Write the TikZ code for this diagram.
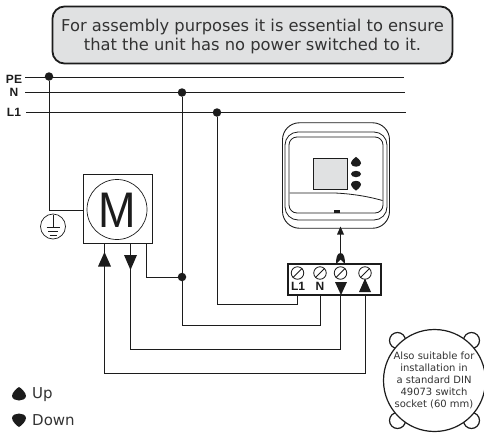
\documentclass[tikz,border=0pt]{standalone}
\usepackage{fontspec}
\setmainfont{DejaVu Sans}
\newfontfamily\armo{Liberation Sans}
\newcommand{\fsz}[1]{\fontsize{#1}{#1}\selectfont}
\definecolor{wire}{HTML}{1C1C1C}
\definecolor{panel}{HTML}{E0E1E2}
\definecolor{txt}{HTML}{333333}
\tikzset{
  wireline/.style={draw=wire,line width=1pt},
  junction/.style={circle,fill=wire,inner sep=0pt,minimum size=8.5pt},
  busname/.style={font=\armo\bfseries\fsz{12},text=wire,inner sep=0pt},
  termname/.style={font=\armo\bfseries\fsz{12},text=wire,inner sep=0pt},
  screwhead/.style={circle,draw=wire,line width=.8pt,inner sep=0pt,minimum size=12.5pt},
  tri/.style={fill=wire,draw=none},
  ear/.style={circle,draw=wire,line width=1.2pt,fill=white,inner sep=0pt,minimum size=16pt},
  devline/.style={draw=wire,line width=.8pt},
  tearup/.pic={\fill[wire] (0,-7) .. controls (2,-6) and (7,-1.5) .. (7,2) .. controls (7,5) and (3,6.5) .. (0,6.5) .. controls (-3,6.5) and (-7,5) .. (-7,2) .. controls (-7,-1.5) and (-2,-6) .. (0,-7) -- cycle;},
  teardown/.pic={\fill[wire] (0,7) .. controls (2,6) and (7,1.5) .. (7,-2) .. controls (7,-5) and (3,-6.5) .. (0,-6.5) .. controls (-3,-6.5) and (-7,-5) .. (-7,-2) .. controls (-7,1.5) and (-2,6) .. (0,7) -- cycle;},
}
\begin{document}
\begin{tikzpicture}[x=1pt,y=-1pt]
\useasboundingbox (0,0) rectangle (484,434);
% notice
\node[draw=wire,line width=1.8pt,fill=panel,rounded corners=12pt,minimum width=400pt,minimum height=57pt,inner sep=0pt] (note) at (252.5,35) {};
\node[inner sep=0pt,align=center,font=\fsz{16.3},text=txt] (noteT) at (252.5,36.5) {For assembly purposes it is essential to ensure\\[2pt]that the unit has no power switched to it.};
% bus
\coordinate (peL) at (25,77); \coordinate (peR) at (404,77);
\coordinate (nL) at (25,92); \coordinate (nR) at (405,92);
\coordinate (lL) at (26,112); \coordinate (lR) at (406,112);
\node[busname] (peT) at (14,79) {PE};
\node[busname] (nT) at (14,92) {N};
\node[busname] (lT) at (14,112.5) {L1};
\draw[wireline] (peL) -- (peR);
\draw[wireline] (nL) -- (nR);
\draw[wireline] (lL) -- (lR);
\node[junction] (jpe) at (49,76.5) {};
\node[junction] (jn) at (182,92.5) {};
\node[junction] (jl) at (217,112.5) {};
% motor
\node[draw=wire,line width=1pt,fill=white,minimum width=69pt,minimum height=69pt,inner sep=0pt] (motor) at (117.5,208.5) {};
\node[circle,draw=wire,line width=.7pt,minimum size=60pt,inner sep=0pt] (mcirc) at (117,209.5) {};
\node[font=\armo\fsz{50},xscale=.9,text=wire,inner sep=0pt] (mM) at (117,210) {M};
\coordinate (mp) at (83,210);
\coordinate (mu) at (104,243);
\coordinate (md) at (130.5,243);
\coordinate (mn) at (146,243);
% ground
\node[circle,draw=wire,line width=.7pt,minimum size=25pt,inner sep=0pt] (gnd) at (53,226.5) {};
\draw[wire,line width=.8pt] (53,215) -- (53,227) (46.5,227) -- (59.5,227) (48,231) -- (58,231);
\draw[wire,line width=1pt] (49.5,235) -- (56.5,235);
\draw[wireline] (jpe) |- (mp);
% terminal
\node[draw=wire,line width=1.7pt,fill=white,minimum width=93pt,minimum height=31pt,inner sep=0pt] (term) at (334.5,279.5) {};
\foreach \n/\x in {a/297.5,b/320,c/340.5,d/365}{
  \node[screwhead] (s\n) at (\x,273) {};
  \draw[wire,line width=.8pt] (s\n.south west) -- (s\n.north east);
  \coordinate (t\n) at (\x,295);
}
\node[termname] (tL) at (298,286.5) {L1};
\node[termname] (tN) at (320,286.5) {N};
% wires
\coordinate (jm) at (182,277);
\draw[wireline] (jn) -- (182,325) -| (tb);
\draw[wireline] (jl) -- (217,304) -| (ta);
\draw[wireline] (mn) |- (jm);
\node[junction] (jmn) at (jm) {};
\draw[wireline] (md) -- (130.5,349) -| (tc);
\draw[wireline] (mu) -- (104,373) -| (td);
% arrowheads
\fill[tri] (104.5,252) -- (111,266.5) -- (98,266.5) -- cycle;
\fill[tri] (130.5,270) -- (137,255) -- (124,255) -- cycle;
\fill[tri] (341,295) -- (347,282) -- (335,282) -- cycle;
\fill[tri] (365,278.5) -- (371,292) -- (359,292) -- cycle;
% device
\node[draw=wire,line width=.9pt,fill=white,rounded corners=17pt,minimum width=107pt,minimum height=105.5pt,inner sep=0pt] (dev) at (336,175.5) {};
\node[devline,rounded corners=13pt,minimum width=102pt,minimum height=88pt,inner sep=0pt] (dev2) at (336,176) {};
\node[devline,rounded corners=8pt,minimum width=94pt,minimum height=76pt,inner sep=0pt] (dev3) at (336,175) {};
\node[draw=wire,line width=.8pt,fill=panel,minimum width=34pt,minimum height=30.5pt,inner sep=0pt] (screen) at (330,174) {};
\draw[devline] (289.5,193) -- (335,193) .. controls (355,194) and (370,197) .. (382.5,200.5);
\fill[wire] (334,210) rectangle (340,213);
\pic[scale=.72] at (356,162) {tearup};
\fill[wire] (356,174) ellipse (5pt and 3.2pt);
\pic[scale=.72] at (356,185.5) {teardown};
% up-going link
\coordinate (ltip) at (340.5,234);
\coordinate (lbase) at (340.5,258);
\draw[wireline] (lbase) -- (ltip);
\fill[tri] (340.5,226.5) -- (344,234.5) -- (337,234.5) -- cycle;
\fill[wire] (336,264) .. controls (336,258) and (337,253) .. (340.5,253) .. controls (344,253) and (345,258) .. (345,264) -- (340.5,259.5) -- cycle;
% badge
\node[ear] (e1) at (397.5,340.5) {};
\node[ear] (e2) at (471.5,340.5) {};
\node[ear] (e3) at (397.5,420.5) {};
\node[ear] (e4) at (471.5,420.5) {};
\node[circle,draw=wire,line width=1.2pt,fill=white,minimum size=102pt,inner sep=0pt] (badge) at (434.5,380.5) {};
\node[inner sep=0pt,align=center,font=\fsz{10},text=txt] (badgeT) at (434,380.5) {Also suitable for\\[2pt]installation in\\[2pt]a standard DIN\\[2pt]49073 switch\\[2pt]socket (60 mm)};
% legend
\pic at (19,394) {tearup};
\node[anchor=west,inner sep=0pt,font=\fsz{15},text=txt] (lu) at (32,394.5) {Up};
\pic at (19,420) {teardown};
\node[anchor=west,inner sep=0pt,font=\fsz{15},text=txt] (ld) at (32,420.5) {Down};
\end{tikzpicture}
\end{document}
